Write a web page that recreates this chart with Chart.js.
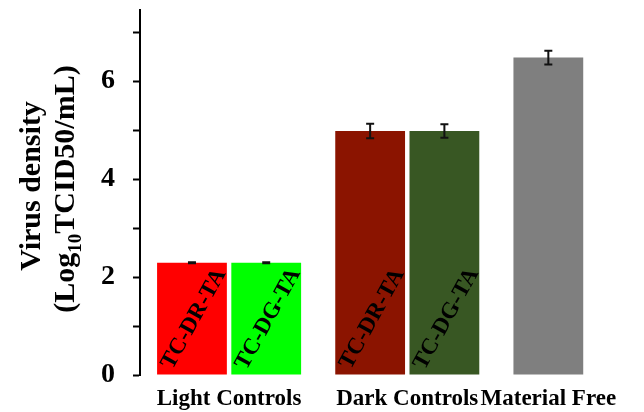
<!DOCTYPE html>
<html>
<head>
<meta charset="utf-8">
<script src="https://cdn.jsdelivr.net/npm/chart.js@4.4.1/dist/chart.umd.min.js"></script>
<style>
  body { margin: 0; background: #fff; }
  #wrap { width: 644px; height: 412px; }
</style>
</head>
<body>
<div id="wrap"><canvas id="virusChart" width="644" height="412"></canvas></div>
<script>
// Data
const groups = ['Light Controls', 'Dark Controls', 'Material Free'];
const barGroup = [0, 0, 1, 1, 2];
const barLabels = ['TC-DR-TA', 'TC-DG-TA', 'TC-DR-TA', 'TC-DG-TA', ''];
const barValues = [2.29, 2.29, 4.98, 4.98, 6.48];
const barErrors = [0.01, 0.01, 0.15, 0.14, 0.14];
const barColors = ['#ff0000', '#00ff00', '#8b1400', '#385723', '#7f7f7f'];
const yTickLabels = [0, 2, 4, 6];

const SERIF = '"Liberation Serif", "Times New Roman", serif';
const GROUP_GAP = 0.4;

// bar positions along a linear x axis: one unit per bar, extra gap between groups
const barX = barValues.map((v, i) => i + GROUP_GAP * barGroup[i]);
const groupCenters = groups.map((g, gi) => {
    const xs = barX.filter((x, i) => barGroup[i] === gi);
    return xs.reduce((a, b) => a + b, 0) / xs.length;
});

// Error bars
const errorBars = {
    id: 'errorBars',
    afterDatasetsDraw(chart) {
        const ctx = chart.ctx;
        const y = chart.scales.y;
        const meta = chart.getDatasetMeta(0);
        ctx.save();
        ctx.strokeStyle = '#111';
        ctx.lineWidth = 2;
        meta.data.forEach((bar, i) => {
            const top = y.getPixelForValue(barValues[i] + barErrors[i]);
            const bot = y.getPixelForValue(barValues[i] - barErrors[i]);
            ctx.beginPath();
            ctx.moveTo(bar.x, top);
            ctx.lineTo(bar.x, bot);
            ctx.moveTo(bar.x - 4, top);
            ctx.lineTo(bar.x + 4, top);
            ctx.moveTo(bar.x - 4, bot);
            ctx.lineTo(bar.x + 4, bot);
            ctx.stroke();
        });
        ctx.restore();
    }
};

// Rotated sample names inside the bars
const barText = {
    id: 'barText',
    afterDatasetsDraw(chart) {
        const ctx = chart.ctx;
        const base = chart.scales.y.getPixelForValue(0);
        const meta = chart.getDatasetMeta(0);
        ctx.save();
        ctx.font = 'bold 23px ' + SERIF;
        ctx.fillStyle = '#000';
        ctx.textAlign = 'center';
        ctx.textBaseline = 'middle';
        meta.data.forEach((bar, i) => {
            if (!barLabels[i]) return;
            ctx.save();
            ctx.translate(bar.x + 2, base - 56);
            ctx.rotate(-Math.PI * 61 / 180);
            ctx.fillText(barLabels[i], 0, 0);
            ctx.restore();
        });
        ctx.restore();
    }
};

// Two-line y title with subscript
const yTitle = {
    id: 'yTitle',
    afterDraw(chart) {
        const ctx = chart.ctx;
        ctx.save();
        ctx.fillStyle = '#000';
        ctx.textBaseline = 'alphabetic';
        ctx.rotate(-Math.PI / 2);
        // line 1
        ctx.font = 'bold 30px ' + SERIF;
        ctx.textAlign = 'center';
        ctx.fillText('Virus density', -186, 40);
        // line 2 with subscript
        const parts = [
            { t: '(Log', f: 'bold 30px ' + SERIF, dy: 0 },
            { t: '10', f: 'bold 19px ' + SERIF, dy: 7 },
            { t: 'TCID50/mL)', f: 'bold 30px ' + SERIF, dy: 0 }
        ];
        let total = 0;
        parts.forEach(p => { ctx.font = p.f; p.w = ctx.measureText(p.t).width; total += p.w; });
        let x = -189 - total / 2;
        ctx.textAlign = 'left';
        parts.forEach(p => {
            ctx.font = p.f;
            ctx.fillText(p.t, x, 74 + p.dy);
            x += p.w;
        });
        ctx.restore();
    }
};

const ctx = document.getElementById('virusChart').getContext('2d');
new Chart(ctx, {
    type: 'bar',
    data: {
        datasets: [{
            data: barValues.map((v, i) => ({ x: barX[i], y: v })),
            backgroundColor: barColors,
            borderWidth: 0,
            categoryPercentage: 1,
            barPercentage: 0.94
        }]
    },
    options: {
        responsive: false,
        animation: false,
        layout: { padding: { top: 10, right: 14, left: 0, bottom: 0 } },
        plugins: {
            legend: { display: false },
            tooltip: { enabled: false }
        },
        scales: {
            x: {
                type: 'linear',
                offset: false,
                min: -0.7,
                max: 5.9,
                grid: { display: false },
                border: { display: false },
                afterBuildTicks(scale) {
                    scale.ticks = groupCenters.map(v => ({ value: v }));
                },
                afterFit(scale) {
                    scale.height = 37;
                    scale.paddingLeft = 0;
                    scale.paddingRight = 0;
                },
                ticks: {
                    autoSkip: false,
                    maxRotation: 0,
                    padding: 2,
                    color: '#000',
                    font: { family: SERIF, size: 23, weight: 'bold' },
                    callback(value, index) { return groups[index]; }
                }
            },
            y: {
                min: 0,
                max: 7.45,
                grid: {
                    drawOnChartArea: false,
                    drawTicks: true,
                    tickLength: 7,
                    tickWidth: 2,
                    tickColor: '#000'
                },
                border: { display: true, color: '#000', width: 2 },
                afterBuildTicks(scale) {
                    const t = [];
                    for (let v = 0; v <= 7; v += 0.5) t.push({ value: v });
                    scale.ticks = t;
                },
                afterFit(scale) {
                    scale.width = 140;
                    scale.paddingTop = 0;
                    scale.paddingBottom = 0;
                },
                ticks: {
                    padding: 18,
                    color: '#000',
                    font: { family: SERIF, size: 28, weight: 'bold' },
                    callback(value) { return yTickLabels.includes(value) ? String(value) : ''; }
                }
            }
        }
    },
    plugins: [errorBars, barText, yTitle]
});
</script>
</body>
</html>
